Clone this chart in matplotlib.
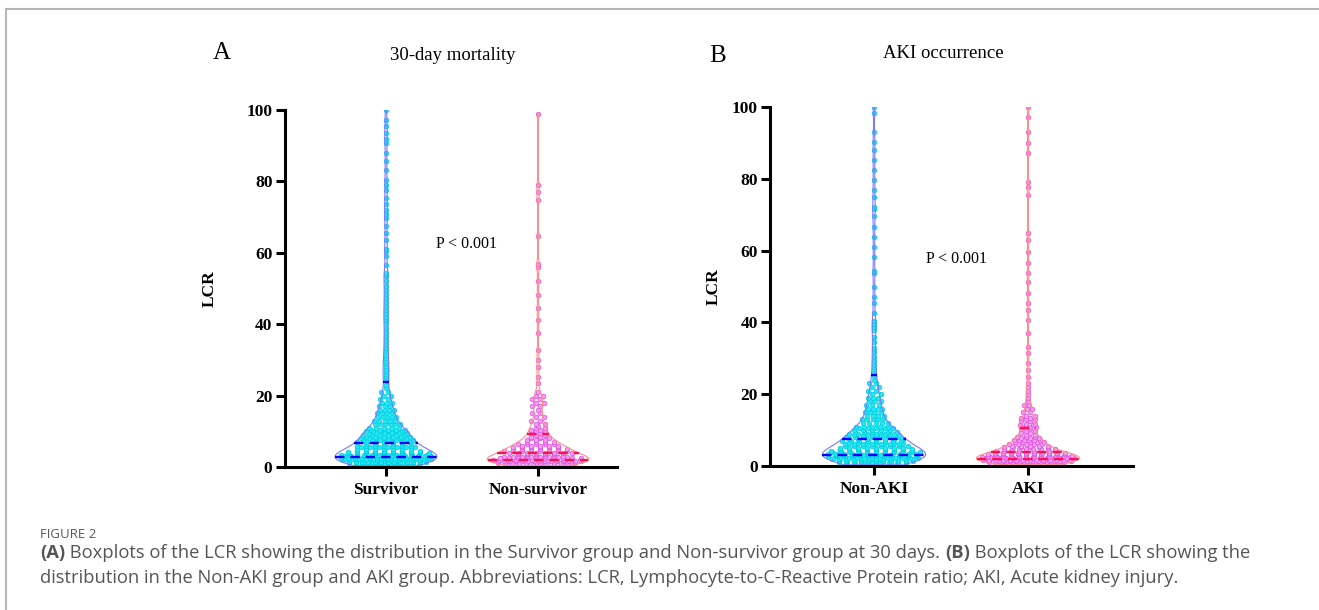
import numpy as np
import matplotlib
matplotlib.use("Agg")
import matplotlib.pyplot as plt
from matplotlib.lines import Line2D
from matplotlib import mlab, cbook

# ---------------- data ----------------
groups_A = ["Survivor", "Non-survivor"]
groups_B = ["Non-AKI", "AKI"]
y_ticks = [0, 20, 40, 60, 80, 100]

surv_vals = [0.3, 0.7, 1.1, 1.5, 1.9, 2.3, 2.6, 3.0, 3.4, 3.8, 4.2, 4.6, 5.0, 5.5, 6.0, 6.5,
             7.0, 7.5, 8.0, 8.5, 9.0, 9.5, 10, 10.5, 11, 12, 13, 14, 15, 16, 17, 18, 19, 20, 21, 22, 23]
surv_counts = [6, 10, 12, 13, 13, 13, 13, 14, 12, 10, 9, 8, 7, 7, 7, 6,
               7, 7, 7, 6, 6, 6, 6, 5, 5, 6, 5, 5, 4, 4, 3, 3, 2, 2, 2, 1, 1]
surv_tail = [24.3, 24.9, 25.5, 26.1, 26.8, 27.5, 28.2, 29.0, 29.8, 30.6, 31.5, 32.4, 33.4, 34.4,
             35.5, 36.6, 37.8, 39.0, 40.2, 41.2, 42.1, 43.0, 44.0, 45.0, 46.1, 47.3, 48.4, 49.6,
             50.8, 52.0, 53.4, 53.8, 54.3, 56.5, 59.0, 60.6, 61.0, 63.6, 65.5, 67.4, 69.7, 71.0,
             72.0, 73.8, 75.3, 77.7, 79.0, 80.5, 83.3, 85.6, 87.9, 90.7, 92.0, 93.5, 95.5, 97.3,
             100.0]
surv_quart = [2.8, 6.8, 23.9]

ns_vals = [0.4, 0.8, 1.2, 1.6, 2.0, 2.4, 2.8, 3.2, 3.6, 4.0, 4.5, 5.0, 5.5, 6.0, 6.5, 7.0, 7.5,
           8.0, 8.5, 9.0, 9.5, 10, 10.5, 11, 11.5, 12, 13, 14, 15, 16, 17, 18, 19, 20, 21]
ns_counts = [5, 8, 12, 15, 12, 10, 8, 6, 5, 8, 8, 7, 6, 5, 5, 4, 3,
             3, 2, 2, 2, 2, 2, 2, 1, 2, 2, 2, 2, 1, 2, 2, 2, 2, 1]
ns_tail = [23.5, 25.3, 28.0, 30.0, 32.8, 37.5, 41.2, 44.5, 48.2, 52.0, 56.0, 56.9, 64.8,
           74.7, 77.0, 79.0, 99.0]
ns_quart = [1.9, 3.9, 9.2]

na_vals = [0.3, 0.7, 1.1, 1.5, 1.9, 2.3, 2.7, 3.0, 3.4, 3.8, 4.2, 4.6, 5.0, 5.5, 6.0, 6.5, 7.0,
           7.6, 8.0, 8.5, 9.0, 9.5, 10, 10.5, 11, 12, 13, 14, 15, 16, 17, 18, 19, 20, 21, 22, 23, 24, 25]
na_counts = [5, 8, 10, 11, 12, 12, 12, 10, 12, 11, 10, 9, 8, 8, 7, 7, 8,
             7, 7, 6, 6, 6, 5, 5, 5, 5, 5, 4, 4, 4, 3, 3, 3, 2, 2, 2, 2, 1, 1]
na_tail = [26.0, 27.0, 28.0, 29.2, 30.5, 31.8, 33.0, 34.5, 36.0, 37.9, 38.8, 39.5, 40.5, 42.5,
           45.3, 47.2, 50.0, 53.7, 54.2, 58.3, 61.1, 63.9, 66.7, 69.5, 71.5, 72.2, 75.0, 76.9,
           79.7, 82.5, 85.2, 88.0, 90.3, 93.1, 98.2, 100.0]
na_quart = [3.2, 7.5, 25.3]

aki_vals = [0.3, 0.7, 1.1, 1.5, 1.8, 2.1, 2.5, 2.9, 3.3, 3.7, 4.2, 4.7, 5.2, 5.7, 6.2, 6.7, 7.2,
            7.7, 8.2, 8.7, 9.2, 9.7, 10.2, 10.8, 11.3, 11.8, 12.5, 13.0, 13.5, 14, 15, 16, 17, 18,
            19, 20, 21, 22]
aki_counts = [6, 10, 14, 16, 14, 14, 13, 12, 11, 10, 9, 8, 6, 5, 5, 5, 6,
              3, 3, 2, 2, 2, 2, 3, 3, 2, 2, 2, 2, 2, 2, 2, 2, 1,
              1, 1, 1, 1]
aki_tail = [23.0, 24.9, 26.7, 28.6, 31.4, 33.2, 37.0, 40.7, 43.5, 45.3, 48.1, 51.3, 53.7, 56.5,
            59.7, 63.0, 64.8, 75.5, 77.8, 79.2, 87.1, 89.9, 93.1, 97.2, 100.0]
aki_quart = [1.9, 4.0, 10.5]

# ---------------- figure ----------------
W, H = 1319, 610
plt.rcParams['font.family'] = ['Liberation Serif', 'DejaVu Serif']
fig = plt.figure(figsize=(W / 100, H / 100), dpi=100)


def fx(x):
    return x / W


def fy(y):
    return 1 - y / H


CYAN_F, CYAN_E = '#22E8F4', '#00CCDD'
VIO_F, VIO_E = '#F29CF2', '#DD50DD'
BLUE_L, BLUE_Q = '#7A7AFF', '#0000FF'
RED_L, RED_Q = '#FF8C8C', '#FF1050'
VW = 0.67


def draw_group(ax, pos, vals, counts, tail, quart, bw, ppu, line_col, pf, pe, qcol):
    rows = list(zip(vals, counts)) + [(t, 1) for t in tail]
    data = np.concatenate([np.repeat(vals, counts), np.array(tail, float)])
    sd = np.std(data)
    method = lambda X, coords: mlab.GaussianKDE(X, bw / sd).evaluate(coords)
    parts = ax.violinplot([data], positions=[pos], widths=VW, showextrema=False,
                          points=400, bw_method=bw / sd)
    for b in parts['bodies']:
        b.set_facecolor('none')
        b.set_edgecolor(line_col)
        b.set_linewidth(0.8)
        b.set_alpha(1)
        b.set_zorder(2.5)
    st = cbook.violin_stats([data], method, points=400)[0]
    coords = np.asarray(st['coords'])
    hw = 0.5 * VW * np.asarray(st['vals']) / np.max(st['vals'])
    dmax = 9.0 / ppu
    xs, ys = [], []
    for k, (v, c) in enumerate(rows):
        w = np.interp(v, coords, hw) * 0.86
        if c == 1:
            px = [pos]
        else:
            step = min(2 * w / (c - 1), dmax)
            half = step * (c - 1) / 2
            shift = (0.25 if k % 2 else -0.25) * step
            px = list(pos + np.linspace(-half, half, c) + shift)
        xs += px
        ys += [v] * len(px)
    ax.scatter(xs, ys, s=11, facecolor=pf, edgecolor=pe, linewidths=0.5, zorder=2)
    for q in quart:
        w = np.interp(q, coords, hw)
        ax.plot([pos - w, pos + w], [q, q], color=qcol, lw=1.7,
                ls=(0, (4, 2.5)), zorder=3, solid_capstyle='butt')


def style_axes(ax, labels):
    ax.set_ylim(0, 100)
    ax.set_yticks(y_ticks)
    ax.set_xticks([1, 2])
    ax.set_xticklabels(labels)
    for s in ('top', 'right'):
        ax.spines[s].set_visible(False)
    for s in ('left', 'bottom'):
        ax.spines[s].set_linewidth(2.2)
    ax.tick_params(axis='y', length=6.7, width=2.2, pad=2, labelsize=12.5)
    ax.tick_params(axis='x', length=6.5, width=2.2, pad=4, labelsize=12.5)
    for t in ax.get_xticklabels() + ax.get_yticklabels():
        t.set_fontweight('bold')
    ax.set_ylabel('LCR', fontsize=12.5, fontweight='bold')


# Panel A
axA = fig.add_axes([fx(284.5), fy(467), fx(617 - 284.5), (467 - 110) / H])
draw_group(axA, 1, surv_vals, surv_counts, surv_tail, surv_quart, 2.0, 152,
           BLUE_L, CYAN_F, CYAN_E, BLUE_Q)
draw_group(axA, 2, ns_vals, ns_counts, ns_tail, ns_quart, 1.4, 152,
           RED_L, VIO_F, VIO_E, RED_Q)
axA.set_xlim(1 - 101.5 / 152, 2 + 79 / 152)
style_axes(axA, groups_A)
axA.yaxis.set_label_coords(-67 / 332.5, 0.5)

# Panel B
axB = fig.add_axes([fx(770), fy(466), fx(1133 - 770), (466 - 107) / H])
draw_group(axB, 1, na_vals, na_counts, na_tail, na_quart, 2.0, 154,
           BLUE_L, CYAN_F, CYAN_E, BLUE_Q)
draw_group(axB, 2, aki_vals, aki_counts, aki_tail, aki_quart, 1.3, 154,
           RED_L, VIO_F, VIO_E, RED_Q)
axB.set_xlim(1 - 104 / 154, 2 + 105 / 154)
style_axes(axB, groups_B)
axB.yaxis.set_label_coords(-48 / 363, 0.5)

# titles and annotations
fig.text(fx(222), fy(53), 'A', fontsize=18, ha='center', va='center')
fig.text(fx(453), fy(56), '30-day mortality', fontsize=13.5, ha='center', va='center')
fig.text(fx(718), fy(56), 'B', fontsize=18, ha='center', va='center')
fig.text(fx(943), fy(54), 'AKI occurrence', fontsize=13.5, ha='center', va='center')
fig.text(fx(467), fy(244), 'P < 0.001', fontsize=11.5, ha='center', va='center')
fig.text(fx(957), fy(259), 'P < 0.001', fontsize=11.5, ha='center', va='center')

# frame lines
fig.add_artist(Line2D([fx(6), fx(6)], [0, fy(9)], transform=fig.transFigure,
                      color='#b5b5b5', lw=1.5))
fig.add_artist(Line2D([fx(6), 1], [fy(9), fy(9)], transform=fig.transFigure,
                      color='#b5b5b5', lw=1.5))

# caption
CAP = '#555555'
CAPF = ['Open Sans', 'DejaVu Sans']
fig.text(fx(40), fy(535), 'FIGURE 2', fontsize=9.5, family=CAPF, color='#5a5a5a',
         ha='left', va='center')

line1 = [('(A)', 'bold'),
         (' Boxplots of the LCR showing the distribution in the Survivor group and Non-survivor group at 30 days. ', 'normal'),
         ('(B)', 'bold'),
         (' Boxplots of the LCR showing the', 'normal')]
line2 = [('distribution in the Non-AKI group and AKI group. Abbreviations: LCR, '
          'Lymphocyte-to-C-Reactive Protein ratio; AKI, Acute kidney injury.', 'normal')]

renderer = fig.canvas.get_renderer()


def rich(pieces, x, y, size, draw=True):
    total = 0
    for s, wgt in pieces:
        t = fig.text(fx(x + total), fy(y), s, fontsize=size, fontweight=wgt, family=CAPF,
                     color=CAP, ha='left', va='center')
        total += t.get_window_extent(renderer=renderer).width
        if not draw:
            t.remove()
    return total


w12 = rich(line1, 40, 553, 12, draw=False)
cap_size = 12 * (1248 - 40) / w12
rich(line1, 40, 553, cap_size)
rich(line2, 40, 578, cap_size)

fig.savefig('out.png', dpi=100)
